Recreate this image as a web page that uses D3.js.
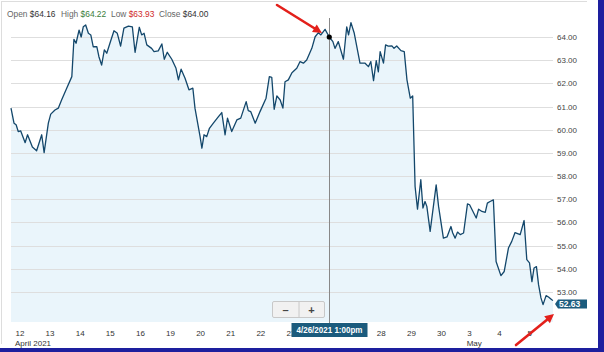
<!DOCTYPE html>
<html>
<head>
<meta charset="utf-8">
<script src="https://cdn.jsdelivr.net/npm/d3@7"></script>
<style>
  body { margin: 0; background: #fff; }
  svg { display: block; font-family: "Liberation Sans", Arial, sans-serif; }
</style>
</head>
<body>
<div id="chart"></div>
<script>
// trading days shown on the x axis
const dayLabels = ["12", "13", "14", "15", "16", "19", "20", "21", "22", "23", "26", "27", "28", "29", "30", "3", "4", "5"];
const monthLabels = [{ day: 0, text: "April 2021" }, { day: 15, text: "May" }];
const priceTicks = [53, 54, 55, 56, 57, 58, 59, 60, 61, 62, 63, 64];

// time in trading days since Apr 12 open, and the price at that time
const times = [0, 0.10, 0.17, 0.24, 0.32, 0.47, 0.55, 0.71, 0.85, 1.02,
  1.10, 1.24, 1.32, 1.46, 1.57, 1.68, 1.85, 2.02, 2.09, 2.16,
  2.26, 2.33, 2.40, 2.48, 2.57, 2.65, 2.73, 2.85, 2.92, 3.01,
  3.10, 3.18, 3.32, 3.42, 3.53, 3.64, 3.75, 3.90, 4.03, 4.12,
  4.26, 4.34, 4.42, 4.51, 4.67, 4.75, 4.89, 5.01, 5.09, 5.19,
  5.34, 5.48, 5.56, 5.65, 5.78, 5.91, 6.04, 6.11, 6.28, 6.34,
  6.41, 6.50, 6.59, 6.72, 6.89, 7.00, 7.11, 7.19, 7.33, 7.50,
  7.63, 7.81, 7.88, 7.96, 8.11, 8.27, 8.47, 8.58, 8.66, 8.74,
  8.83, 8.94, 9.03, 9.10, 9.21, 9.33, 9.49, 9.60, 9.71, 9.82,
  9.99, 10.10, 10.21, 10.29, 10.43, 10.57, 10.69, 10.76, 10.87, 11.04,
  11.15, 11.21, 11.29, 11.40, 11.59, 11.76, 11.87, 11.95, 12.04, 12.13,
  12.20, 12.26, 12.37, 12.44, 12.53, 12.65, 12.72, 12.81, 12.95, 13.06,
  13.15, 13.26, 13.34, 13.42, 13.50, 13.61, 13.68, 13.75, 13.81, 13.92,
  14.12, 14.20, 14.36, 14.48, 14.61, 14.67, 14.75, 14.83, 14.92, 15.03,
  15.16, 15.23, 15.45, 15.53, 15.64, 15.75, 15.82, 15.91, 16.02, 16.11,
  16.27, 16.38, 16.52, 16.63, 16.74, 16.91, 17.04, 17.13, 17.22, 17.30,
  17.37, 17.45, 17.52, 17.60, 17.67, 17.77, 17.85, 17.96, 18.0];
const prices = [60.93, 60.28, 60.21, 59.92, 59.95, 59.44, 59.78, 59.25, 59.09, 59.78,
  59.01, 60.28, 60.67, 60.85, 60.93, 61.28, 61.79, 62.29, 63.90, 63.73,
  64.30, 64.00, 64.44, 64.52, 64.16, 64.09, 63.58, 63.58, 63.15, 62.79,
  63.44, 63.30, 63.87, 64.27, 64.16, 63.61, 64.38, 64.47, 64.44, 63.34,
  64.42, 64.09, 64.16, 63.66, 63.51, 63.37, 63.40, 63.70, 63.04, 63.34,
  63.04, 62.65, 62.15, 62.61, 62.22, 61.72, 61.79, 60.93, 59.70, 59.20,
  59.78, 59.70, 60.06, 60.28, 60.56, 60.74, 59.78, 60.50, 59.92, 60.42,
  60.50, 61.21, 60.82, 60.78, 60.28, 60.78, 61.36, 62.29, 62.26, 60.88,
  61.46, 61.28, 60.93, 62.07, 62.15, 62.46, 62.65, 62.94, 62.87, 63.01,
  63.51, 64.01, 64.19, 64.09, 64.33, 64.00, 63.80, 63.51, 63.80, 63.04,
  64.44, 64.09, 64.62, 64.16, 62.87, 62.87, 62.72, 62.94, 62.12, 62.98,
  62.50, 63.37, 62.87, 63.66, 63.61, 63.62, 63.51, 63.61, 63.41, 63.37,
  62.15, 61.36, 61.46, 57.55, 56.57, 57.84, 56.62, 56.90, 56.69, 55.61,
  57.62, 56.69, 55.32, 55.37, 55.82, 55.54, 55.32, 55.58, 55.47, 55.54,
  56.80, 56.76, 56.19, 56.57, 56.47, 56.43, 56.83, 56.90, 56.97, 54.31,
  53.70, 53.88, 54.89, 55.18, 55.56, 55.47, 56.08, 54.39, 54.25, 53.44,
  54.03, 54.09, 53.31, 52.74, 52.45, 52.84, 52.78, 52.66, 52.63];

// hovered bar (Open/High/Low/Close) and crosshair position
const ohlc = [
  { label: "Open", value: "$64.16", color: "#333" },
  { label: "High", value: "$64.22", color: "#3b7d3b" },
  { label: "Low", value: "$63.93", color: "#d02a2a" },
  { label: "Close", value: "$64.00", color: "#333" }
];
const hoverIndex = 95;
const hoverLabel = "4/26/2021 1:00pm";

const width = 604, height = 352;
const plot = { left: 11, right: 553, top: 18, bottom: 322 };

const svg = d3.select("#chart").append("svg")
    .attr("width", width)
    .attr("height", height);

const data = times.map((t, i) => ({ t, v: prices[i] }));

const x = d3.scaleLinear().domain([0, dayLabels.length]).range([plot.left, plot.right]);
const y = d3.scaleLinear().domain([51.70, 64.82]).range([plot.bottom, plot.top]);

// widget frame
svg.append("line").attr("x1", 2).attr("x2", 587).attr("y1", 1.5).attr("y2", 1.5)
    .attr("stroke", "#ddd");
svg.append("line").attr("x1", 1.5).attr("x2", 1.5).attr("y1", 1).attr("y2", 344)
    .attr("stroke", "#ddd");

// header
const header = svg.append("g").attr("font-size", "8.4px");
const headerX = [7, 61, 111, 159];
ohlc.forEach((d, i) => {
    const t = header.append("text").attr("x", headerX[i]).attr("y", 16.5);
    t.append("tspan").attr("fill", "#666").text(d.label + " ");
    t.append("tspan").attr("fill", d.color).text(d.value);
});

// area fill
const area = d3.area()
    .x(d => x(d.t))
    .y0(plot.bottom)
    .y1(d => y(d.v));
svg.append("path")
    .datum(data)
    .attr("d", area)
    .attr("fill", "#eaf5fb");

// horizontal grid
svg.append("g")
    .selectAll("line")
    .data(priceTicks)
    .join("line")
    .attr("x1", plot.left)
    .attr("x2", plot.right)
    .attr("y1", d => Math.round(y(d)) + 0.5)
    .attr("y2", d => Math.round(y(d)) + 0.5)
    .attr("stroke", "#dedede");

// price axis on the right
svg.append("g")
    .attr("transform", `translate(${plot.right},0)`)
    .call(d3.axisRight(y).tickValues(priceTicks).tickSize(0).tickPadding(4).tickFormat(d3.format(".2f")))
    .call(g => g.select(".domain").remove())
    .selectAll("text")
    .attr("font-size", "8px")
    .attr("font-family", "Liberation Sans, Arial, sans-serif")
    .attr("fill", "#444");

// crosshair position and the date flag that hides the day labels under it
const hx = Math.round(x(data[hoverIndex].t)) + 0.5;
const tipW = 76, tipH = 14;
const tipLeft = hx - tipW / 2, tipRight = hx + tipW / 2;

// day axis (labels fully under the date flag are not shown)
const shownDays = d3.range(dayLabels.length).filter(i => {
    const lx = x(i) + 4;
    return !(lx >= tipLeft && lx + 10 <= tipRight);
});
const xAxis = svg.append("g")
    .attr("transform", `translate(0,${plot.bottom})`)
    .call(d3.axisBottom(x).tickValues(shownDays).tickSize(0).tickFormat(i => dayLabels[i]))
    .call(g => g.select(".domain").remove());
xAxis.selectAll("text")
    .attr("text-anchor", "start")
    .attr("x", 4)
    .attr("y", 13.5)
    .attr("dy", null)
    .attr("font-size", "8px")
    .attr("font-family", "Liberation Sans, Arial, sans-serif")
    .attr("fill", "#333");

svg.append("g")
    .selectAll("text")
    .data(monthLabels)
    .join("text")
    .attr("x", d => x(d.day) + 4)
    .attr("y", 345.5)
    .attr("font-size", "8px")
    .attr("fill", "#333")
    .text(d => d.text);

// price line
const line = d3.line()
    .x(d => x(d.t))
    .y(d => y(d.v));
svg.append("path")
    .datum(data)
    .attr("d", line)
    .attr("fill", "none")
    .attr("stroke", "#13476b")
    .attr("stroke-width", 1.3)
    .attr("stroke-linejoin", "round");

// crosshair
svg.append("line")
    .attr("x1", hx).attr("x2", hx)
    .attr("y1", plot.top).attr("y2", plot.bottom + 2)
    .attr("stroke", "#888");
svg.append("circle")
    .attr("cx", x(data[hoverIndex].t))
    .attr("cy", y(data[hoverIndex].v))
    .attr("r", 2.6)
    .attr("fill", "#000");

// zoom buttons
const zoomG = svg.append("g").attr("transform", "translate(272.5,301.5)");
zoomG.append("rect").attr("width", 52).attr("height", 16).attr("rx", 1.5)
    .attr("fill", "#f1f1f1").attr("stroke", "#c8c8c8");
zoomG.append("line").attr("x1", 26.5).attr("x2", 26.5).attr("y1", 0).attr("y2", 16)
    .attr("stroke", "#c8c8c8");
zoomG.selectAll("text")
    .data(["\u2013", "+"])
    .join("text")
    .attr("x", (d, i) => 13 + i * 26)
    .attr("y", 12)
    .attr("text-anchor", "middle")
    .attr("font-size", "11px")
    .attr("font-weight", "bold")
    .attr("fill", "#444")
    .text(d => d);

// date flag on the x axis
svg.append("rect")
    .attr("x", tipLeft)
    .attr("y", 323)
    .attr("width", tipW)
    .attr("height", tipH)
    .attr("fill", "#1b5b7d");
svg.append("text")
    .attr("x", hx)
    .attr("y", 333.3)
    .attr("text-anchor", "middle")
    .attr("font-size", "9px")
    .attr("font-weight", "bold")
    .attr("fill", "#fff")
    .attr("textLength", 66)
    .attr("lengthAdjust", "spacingAndGlyphs")
    .text(hoverLabel);

// last price flag
const last = data[data.length - 1];
const ly = y(last.v) + 3.5;
svg.append("path")
    .attr("d", `M${plot.right + 2},${ly} L${plot.right + 5},${ly - 4.5} L${plot.right + 34},${ly - 4.5} L${plot.right + 34},${ly + 4.5} L${plot.right + 5},${ly + 4.5} Z`)
    .attr("fill", "#1b5b7d");
svg.append("text")
    .attr("x", plot.right + 6)
    .attr("y", ly + 3.2)
    .attr("font-size", "8.5px")
    .attr("font-weight", "bold")
    .attr("fill", "#fff")
    .text(last.v.toFixed(2));

// red annotation arrows
function arrow(x1, y1, x2, y2) {
    const ang = Math.atan2(y2 - y1, x2 - x1);
    const len = 9, wid = 4.5;
    const bx = x2 - len * Math.cos(ang), by = y2 - len * Math.sin(ang);
    svg.append("line")
        .attr("x1", x1).attr("y1", y1).attr("x2", bx).attr("y2", by)
        .attr("stroke", "#e3201b").attr("stroke-width", 2.6).attr("stroke-linecap", "round");
    svg.append("path")
        .attr("d", `M${x2},${y2} L${bx - wid * Math.sin(ang)},${by + wid * Math.cos(ang)} L${bx + wid * Math.sin(ang)},${by - wid * Math.cos(ang)} Z`)
        .attr("fill", "#e3201b");
}
arrow(277, 5, 322, 33);
arrow(516, 345, 554, 314);

// blue screenshot border
svg.append("rect").attr("x", 598).attr("y", 0).attr("width", 6).attr("height", height).attr("fill", "#1d1f9e");
svg.append("rect").attr("x", 0).attr("y", 348).attr("width", width).attr("height", 4).attr("fill", "#1d1f9e");
</script>
</body>
</html>
